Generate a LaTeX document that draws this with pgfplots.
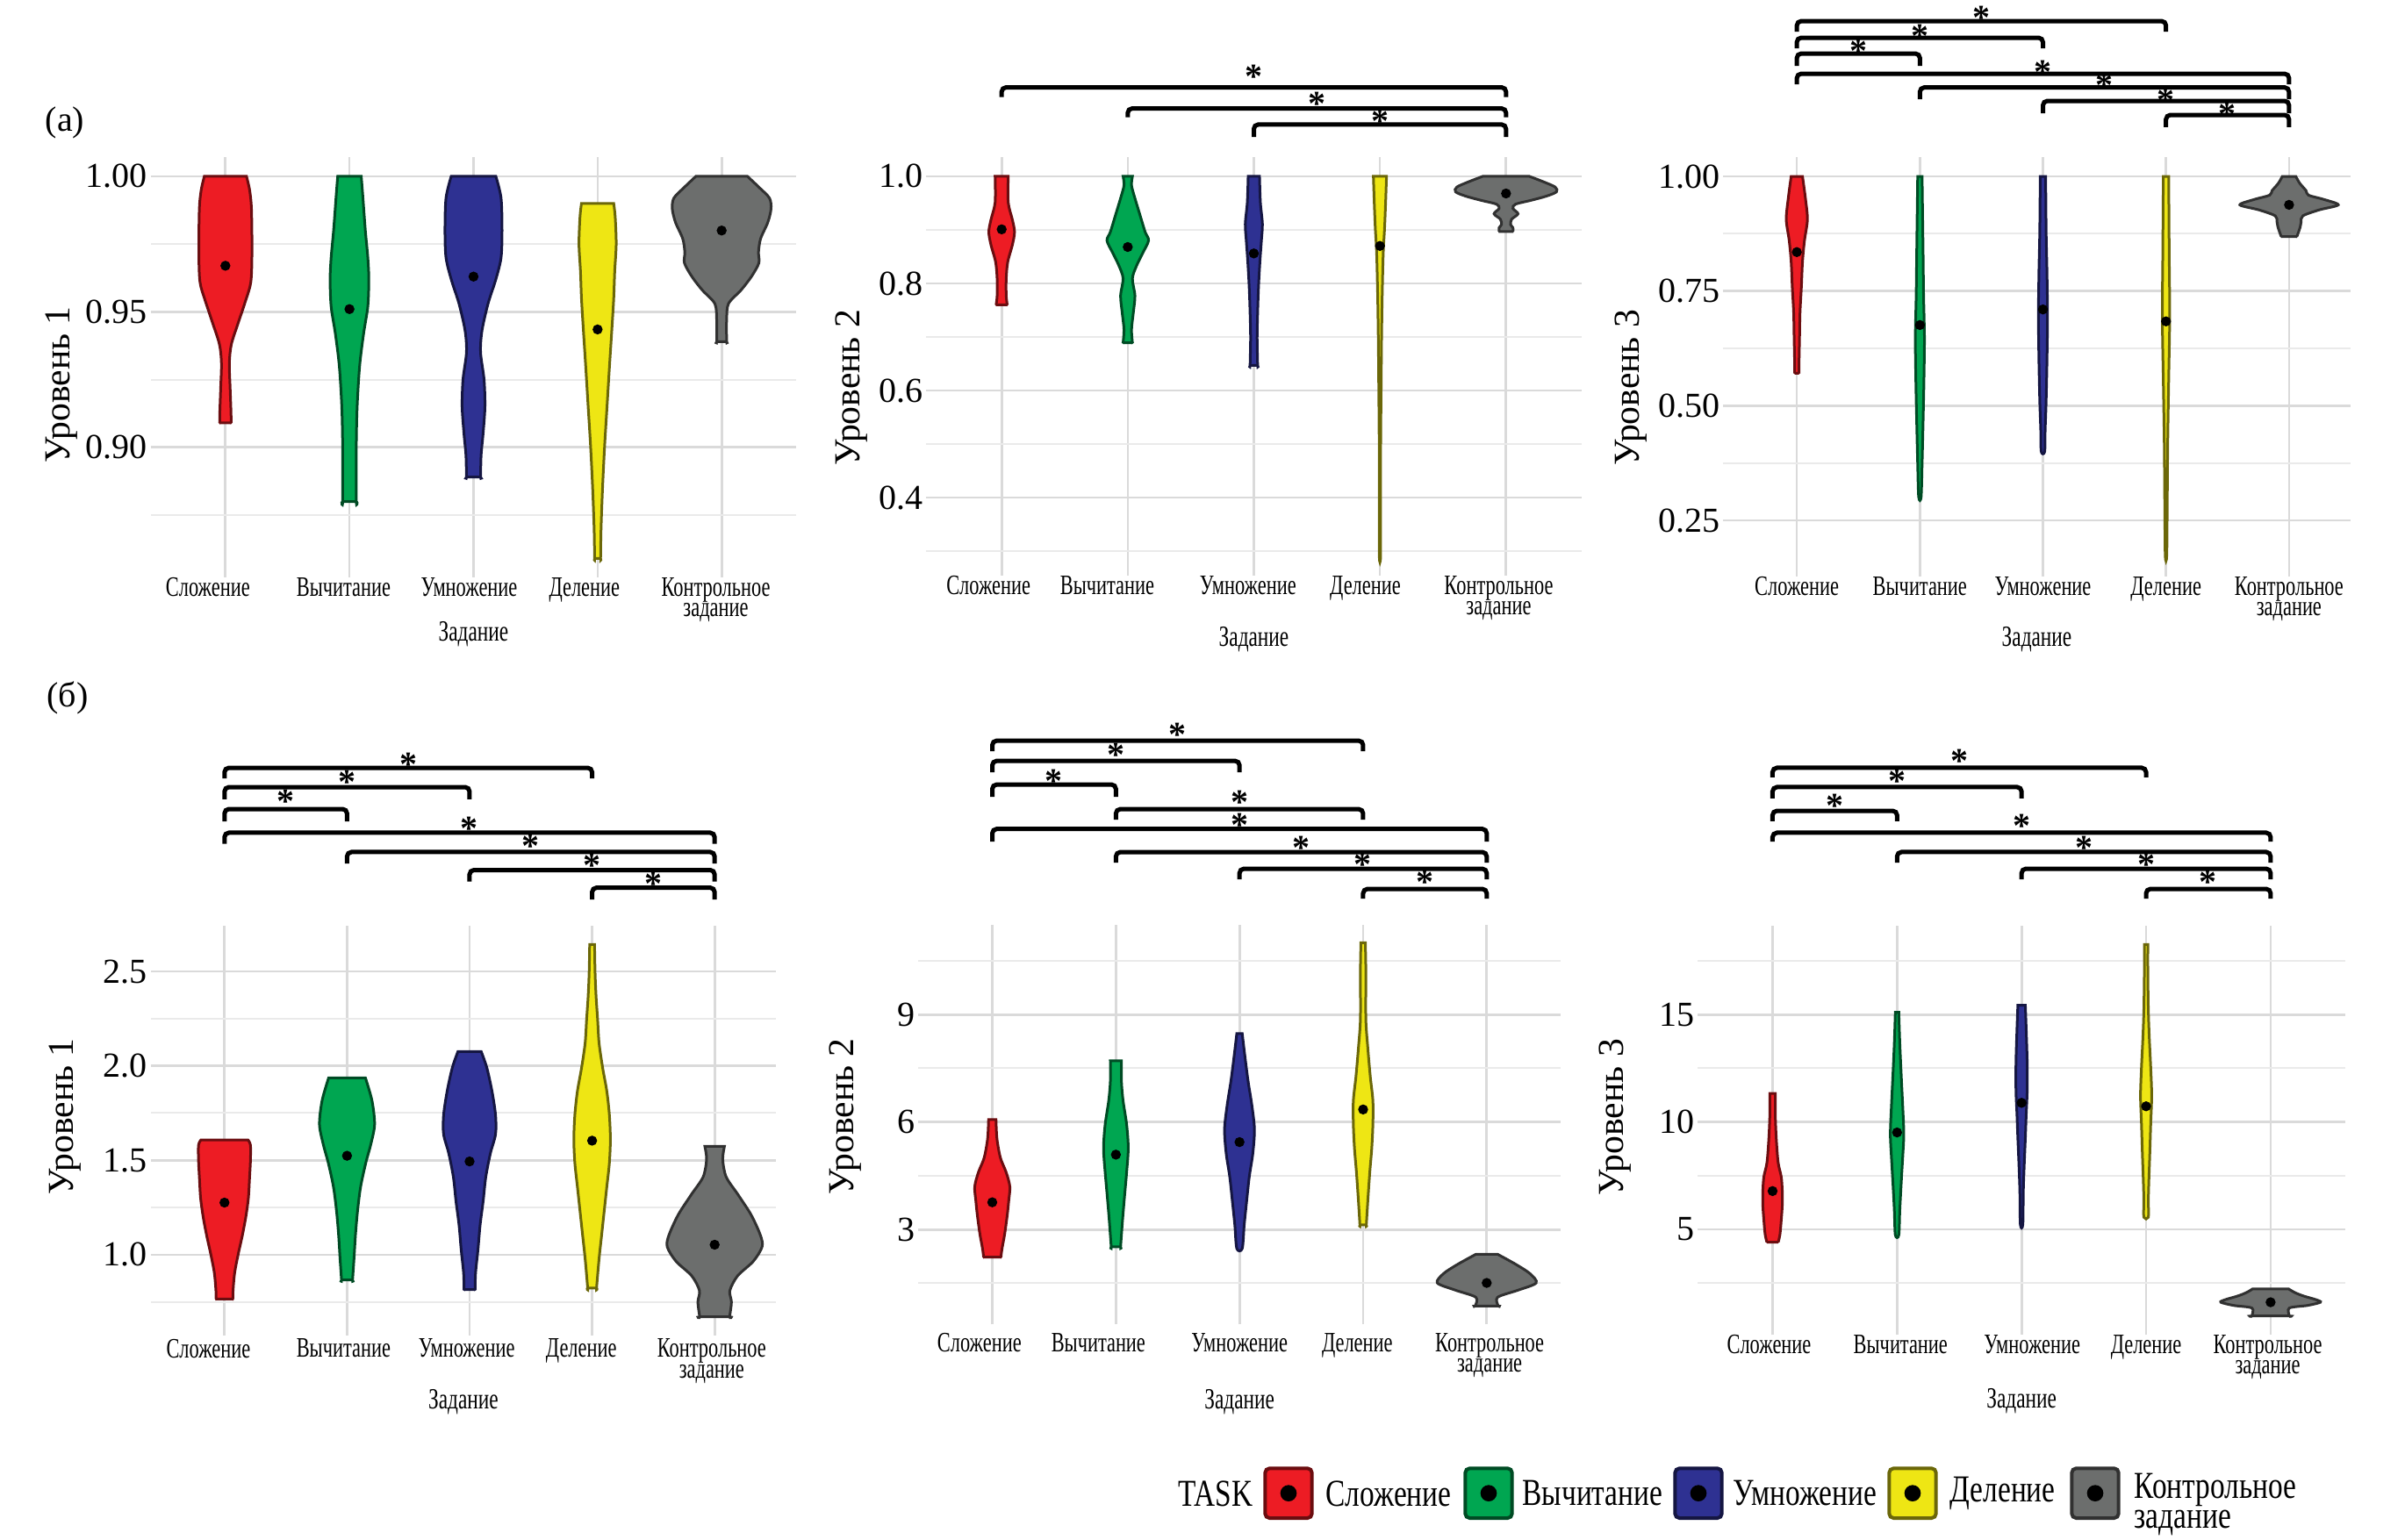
\documentclass[border=0pt]{standalone}
\usepackage{fontspec}
\setmainfont{Liberation Serif}
\newfontfamily\condfont{Liberation Serif}[FakeStretch=0.70]
\newfontfamily\legfont{Liberation Serif}[FakeStretch=0.77]
\usepackage{pgfplots}
\pgfplotsset{compat=1.18}
\usepackage{pgfplotstable}

\definecolor{cred}{HTML}{ED1C24}
\definecolor{cgreen}{HTML}{00A651}
\definecolor{cblue}{HTML}{2E3192}
\definecolor{cyellow}{HTML}{EEE614}
\definecolor{cgrey}{HTML}{6C6E6D}
\definecolor{gmaj}{HTML}{DADADA}
\definecolor{gmin}{HTML}{EAEAEA}

% violin outlines: y, signed half width (category units); right side down, left side up
\pgfplotstableread{
y s
1.000 0.170
0.995 0.195
0.988 0.210
0.972 0.214
0.961 0.205
0.954 0.162
0.946 0.104
0.938 0.048
0.931 0.032
0.922 0.038
0.913 0.045
0.909 0.046
0.909 0.046
0.909 -0.046
0.909 -0.046
0.913 -0.045
0.922 -0.038
0.931 -0.032
0.938 -0.048
0.946 -0.104
0.954 -0.162
0.961 -0.205
0.972 -0.214
0.988 -0.210
0.995 -0.195
1.000 -0.170
}\tAr
\pgfplotstableread{
y s
1.000 0.095
0.993 0.107
0.980 0.128
0.970 0.148
0.962 0.156
0.952 0.148
0.942 0.114
0.930 0.082
0.915 0.062
0.900 0.055
0.880 0.055
0.880 0.055
0.880 -0.055
0.880 -0.055
0.900 -0.055
0.915 -0.062
0.930 -0.082
0.942 -0.114
0.952 -0.148
0.962 -0.156
0.970 -0.148
0.980 -0.128
0.993 -0.107
1.000 -0.095
}\tAg
\pgfplotstableread{
y s
1.000 0.180
0.992 0.222
0.980 0.230
0.970 0.222
0.962 0.180
0.953 0.117
0.943 0.068
0.935 0.057
0.925 0.085
0.915 0.092
0.905 0.077
0.897 0.061
0.889 0.057
0.889 0.057
0.889 -0.057
0.889 -0.057
0.897 -0.061
0.905 -0.077
0.915 -0.092
0.925 -0.085
0.935 -0.057
0.943 -0.068
0.953 -0.117
0.962 -0.180
0.970 -0.222
0.980 -0.230
0.992 -0.222
1.000 -0.180
}\tAb
\pgfplotstableread{
y s
0.990 0.130
0.985 0.142
0.975 0.150
0.965 0.138
0.955 0.130
0.945 0.117
0.930 0.096
0.915 0.076
0.900 0.056
0.885 0.040
0.870 0.028
0.859 0.024
0.859 0.024
0.859 -0.024
0.859 -0.024
0.870 -0.028
0.885 -0.040
0.900 -0.056
0.915 -0.076
0.930 -0.096
0.945 -0.117
0.955 -0.130
0.965 -0.138
0.975 -0.150
0.985 -0.142
0.990 -0.130
}\tAy
\pgfplotstableread{
y s
1.000 0.208
0.996 0.300
0.992 0.385
0.988 0.398
0.983 0.372
0.977 0.314
0.972 0.297
0.968 0.300
0.963 0.240
0.958 0.156
0.953 0.055
0.947 0.040
0.939 0.040
0.939 0.040
0.939 -0.040
0.939 -0.040
0.947 -0.040
0.953 -0.055
0.958 -0.156
0.963 -0.240
0.968 -0.300
0.972 -0.297
0.977 -0.314
0.983 -0.372
0.988 -0.398
0.992 -0.385
0.996 -0.300
1.000 -0.208
}\tAk

\pgfplotstableread{
y s
1.000 0.052
0.951 0.052
0.919 0.085
0.896 0.102
0.872 0.085
0.840 0.048
0.809 0.036
0.777 0.036
0.760 0.044
0.760 0.044
0.760 -0.044
0.760 -0.044
0.777 -0.036
0.809 -0.036
0.840 -0.048
0.872 -0.085
0.896 -0.102
0.919 -0.085
0.951 -0.052
1.000 -0.052
}\tBr
\pgfplotstableread{
y s
1.000 0.037
0.983 0.030
0.959 0.057
0.927 0.098
0.896 0.138
0.880 0.165
0.856 0.117
0.832 0.068
0.809 0.037
0.777 0.057
0.745 0.044
0.714 0.030
0.689 0.037
0.689 0.037
0.689 -0.037
0.689 -0.037
0.714 -0.030
0.745 -0.044
0.777 -0.057
0.809 -0.037
0.832 -0.068
0.856 -0.117
0.880 -0.165
0.896 -0.138
0.927 -0.098
0.959 -0.057
0.983 -0.030
1.000 -0.037
}\tBg
\pgfplotstableread{
y s
1.000 0.045
0.951 0.052
0.911 0.068
0.880 0.060
0.840 0.048
0.793 0.037
0.745 0.030
0.698 0.026
0.647 0.030
0.647 0.030
0.647 -0.030
0.647 -0.030
0.698 -0.026
0.745 -0.030
0.793 -0.037
0.840 -0.048
0.880 -0.060
0.911 -0.068
0.951 -0.052
1.000 -0.045
}\tBb
\pgfplotstableread{
y s
1.000 0.052
0.951 0.045
0.904 0.037
0.856 0.026
0.777 0.018
0.698 0.013
0.619 0.010
0.540 0.007
0.461 0.005
0.382 0.005
0.289 0.005
0.289 -0.005
0.382 -0.005
0.461 -0.005
0.540 -0.007
0.619 -0.010
0.698 -0.013
0.777 -0.018
0.856 -0.026
0.904 -0.037
0.951 -0.045
1.000 -0.052
}\tBy
\pgfplotstableread{
y s
1.000 0.185
0.990 0.295
0.980 0.390
0.971 0.400
0.963 0.320
0.955 0.195
0.948 0.075
0.940 0.055
0.930 0.095
0.920 0.045
0.910 0.036
0.904 0.055
0.897 0.055
0.897 0.055
0.897 -0.055
0.897 -0.055
0.904 -0.055
0.910 -0.036
0.920 -0.045
0.930 -0.095
0.940 -0.055
0.948 -0.075
0.955 -0.195
0.963 -0.320
0.971 -0.400
0.980 -0.390
0.990 -0.295
1.000 -0.185
}\tBk

\pgfplotstableread{
y s
1.000 0.046
0.952 0.070
0.906 0.086
0.860 0.062
0.814 0.046
0.759 0.037
0.704 0.026
0.649 0.022
0.594 0.018
0.571 0.018
0.571 0.018
0.571 -0.018
0.571 -0.018
0.594 -0.018
0.649 -0.022
0.704 -0.026
0.759 -0.037
0.814 -0.046
0.860 -0.062
0.906 -0.086
0.952 -0.070
1.000 -0.046
}\tCr
\pgfplotstableread{
y s
1.000 0.018
0.833 0.026
0.741 0.030
0.649 0.037
0.557 0.033
0.465 0.026
0.373 0.018
0.301 0.010
0.301 -0.010
0.373 -0.018
0.465 -0.026
0.557 -0.033
0.649 -0.037
0.741 -0.030
0.833 -0.026
1.000 -0.018
}\tCg
\pgfplotstableread{
y s
1.000 0.022
0.879 0.026
0.787 0.033
0.695 0.037
0.603 0.033
0.511 0.026
0.447 0.018
0.400 0.014
0.400 -0.014
0.447 -0.018
0.511 -0.026
0.603 -0.033
0.695 -0.037
0.787 -0.033
0.879 -0.026
1.000 -0.022
}\tCb
\pgfplotstableread{
y s
1.000 0.022
0.833 0.026
0.695 0.030
0.557 0.022
0.419 0.014
0.281 0.010
0.173 0.006
0.173 -0.006
0.281 -0.010
0.419 -0.014
0.557 -0.022
0.695 -0.030
0.833 -0.026
1.000 -0.022
}\tCy
\pgfplotstableread{
y s
1.000 0.055
0.985 0.087
0.969 0.138
0.959 0.158
0.950 0.280
0.938 0.400
0.927 0.245
0.914 0.112
0.901 0.098
0.889 0.090
0.869 0.064
0.869 0.064
0.869 -0.064
0.869 -0.064
0.889 -0.090
0.901 -0.098
0.914 -0.112
0.927 -0.245
0.938 -0.400
0.950 -0.280
0.959 -0.158
0.969 -0.138
0.985 -0.087
1.000 -0.055
}\tCk

\pgfplotstableread{
y s
1.608 0.192
1.580 0.212
1.500 0.212
1.400 0.204
1.300 0.195
1.200 0.174
1.100 0.145
1.000 0.111
0.900 0.082
0.800 0.069
0.765 0.069
0.765 0.069
0.765 -0.069
0.765 -0.069
0.800 -0.069
0.900 -0.082
1.000 -0.111
1.100 -0.145
1.200 -0.174
1.300 -0.195
1.400 -0.204
1.500 -0.212
1.580 -0.212
1.608 -0.192
}\tDr
\pgfplotstableread{
y s
1.937 0.150
1.815 0.204
1.690 0.225
1.587 0.195
1.486 0.153
1.360 0.111
1.233 0.086
1.106 0.069
0.980 0.057
0.866 0.045
0.866 0.045
0.866 -0.045
0.866 -0.045
0.980 -0.057
1.106 -0.069
1.233 -0.086
1.360 -0.111
1.486 -0.153
1.587 -0.195
1.690 -0.225
1.815 -0.204
1.937 -0.150
}\tDg
\pgfplotstableread{
y s
2.076 0.095
1.990 0.141
1.866 0.183
1.740 0.212
1.638 0.212
1.537 0.170
1.410 0.132
1.284 0.111
1.157 0.086
1.030 0.069
0.904 0.049
0.815 0.045
0.815 0.045
0.815 -0.045
0.815 -0.045
0.904 -0.049
1.030 -0.069
1.157 -0.086
1.284 -0.111
1.410 -0.132
1.537 -0.170
1.638 -0.212
1.740 -0.212
1.866 -0.183
1.990 -0.141
2.076 -0.095
}\tDb
\pgfplotstableread{
y s
2.643 0.020
2.499 0.024
2.372 0.032
2.245 0.045
2.120 0.057
1.990 0.086
1.866 0.120
1.740 0.141
1.610 0.149
1.486 0.141
1.360 0.120
1.233 0.099
1.106 0.078
0.980 0.057
0.823 0.036
0.823 0.036
0.823 -0.036
0.823 -0.036
0.980 -0.057
1.106 -0.078
1.233 -0.099
1.360 -0.120
1.486 -0.141
1.610 -0.149
1.740 -0.141
1.866 -0.120
1.990 -0.086
2.120 -0.057
2.245 -0.045
2.372 -0.032
2.499 -0.024
2.643 -0.020
}\tDy
\pgfplotstableread{
y s
1.574 0.080
1.505 0.066
1.412 0.094
1.319 0.190
1.212 0.297
1.104 0.373
1.042 0.387
0.965 0.315
0.888 0.187
0.810 0.124
0.749 0.137
0.671 0.122
0.671 0.122
0.671 -0.122
0.671 -0.122
0.749 -0.137
0.810 -0.124
0.888 -0.187
0.965 -0.315
1.042 -0.387
1.104 -0.373
1.212 -0.297
1.319 -0.190
1.412 -0.094
1.505 -0.066
1.574 -0.080
}\tDk

\pgfplotstableread{
y s
6.07 0.030
5.53 0.038
5.00 0.066
4.60 0.112
4.20 0.142
3.80 0.133
3.40 0.121
2.87 0.100
2.47 0.079
2.23 0.070
2.23 0.070
2.23 -0.070
2.23 -0.070
2.47 -0.079
2.87 -0.100
3.40 -0.121
3.80 -0.133
4.20 -0.142
4.60 -0.112
5.00 -0.066
5.53 -0.038
6.07 -0.030
}\tEr
\pgfplotstableread{
y s
7.71 0.045
7.13 0.045
6.60 0.058
5.93 0.087
5.27 0.100
4.60 0.087
3.93 0.070
3.27 0.054
2.52 0.038
2.52 0.038
2.52 -0.038
2.52 -0.038
3.27 -0.054
3.93 -0.070
4.60 -0.087
5.27 -0.100
5.93 -0.087
6.60 -0.058
7.13 -0.045
7.71 -0.045
}\tEg
\pgfplotstableread{
y s
8.47 0.022
7.80 0.045
7.13 0.070
6.47 0.100
5.80 0.121
5.13 0.108
4.47 0.079
3.80 0.058
3.13 0.038
2.47 0.022
2.47 -0.022
3.13 -0.038
3.80 -0.058
4.47 -0.079
5.13 -0.108
5.80 -0.121
6.47 -0.100
7.13 -0.070
7.80 -0.045
8.47 -0.022
}\tEb
\pgfplotstableread{
y s
11.00 0.018
10.20 0.022
8.87 0.022
8.07 0.038
7.27 0.058
6.60 0.079
5.93 0.079
5.27 0.070
4.60 0.054
3.80 0.038
3.13 0.026
3.13 0.026
3.13 -0.026
3.13 -0.026
3.80 -0.038
4.60 -0.054
5.27 -0.070
5.93 -0.079
6.60 -0.079
7.27 -0.058
8.07 -0.038
8.87 -0.022
10.20 -0.022
11.00 -0.018
}\tEy
\pgfplotstableread{
y s
2.31 0.088
2.03 0.235
1.77 0.350
1.51 0.400
1.31 0.255
1.11 0.088
0.867 0.092
0.867 0.092
0.867 -0.092
0.867 -0.092
1.11 -0.088
1.31 -0.255
1.51 -0.400
1.77 -0.350
2.03 -0.235
2.31 -0.088
}\tEk

\pgfplotstableread{
y s
11.33 0.022
10.33 0.022
9.22 0.030
8.11 0.045
7.44 0.070
6.78 0.078
6.11 0.078
5.44 0.070
4.78 0.060
4.40 0.046
4.40 0.046
4.40 -0.046
4.40 -0.046
4.78 -0.060
5.44 -0.070
6.11 -0.078
6.78 -0.078
7.44 -0.070
8.11 -0.045
9.22 -0.030
10.33 -0.022
11.33 -0.022
}\tFr
\pgfplotstableread{
y s
15.11 0.014
13.67 0.022
12.11 0.034
10.78 0.045
9.44 0.054
8.33 0.045
7.22 0.034
5.89 0.022
4.73 0.014
4.73 -0.014
5.89 -0.022
7.22 -0.034
8.33 -0.045
9.44 -0.054
10.78 -0.045
12.11 -0.034
13.67 -0.022
15.11 -0.014
}\tFg
\pgfplotstableread{
y s
15.44 0.030
14.33 0.037
12.78 0.045
11.44 0.045
10.33 0.037
9.22 0.030
8.11 0.022
6.78 0.014
5.22 0.010
5.22 -0.010
6.78 -0.014
8.11 -0.022
9.22 -0.030
10.33 -0.037
11.44 -0.045
12.78 -0.045
14.33 -0.037
15.44 -0.030
}\tFb
\pgfplotstableread{
y s
18.27 0.014
17.00 0.014
15.22 0.018
13.89 0.026
12.56 0.037
11.22 0.045
9.89 0.037
8.56 0.030
7.22 0.022
6.33 0.018
5.56 0.018
5.56 -0.018
6.33 -0.018
7.22 -0.022
8.56 -0.030
9.89 -0.037
11.22 -0.045
12.56 -0.037
13.89 -0.026
15.22 -0.018
17.00 -0.014
18.27 -0.014
}\tFy
\pgfplotstableread{
y s
2.22 0.145
2.05 0.195
1.89 0.265
1.72 0.365
1.60 0.400
1.45 0.295
1.33 0.150
0.96 0.150
0.96 0.150
0.96 -0.150
0.96 -0.150
1.33 -0.150
1.45 -0.295
1.60 -0.400
1.72 -0.365
1.89 -0.265
2.05 -0.195
2.22 -0.145
}\tFk

% one violin: category, colour, table
\newcommand\violin[3]{%
  \addplot[fill=#2, draw=#2!45!black, line width=0.9pt, smooth, tension=0.5, forget plot]
    table[x expr=#1+\thisrow{s}, y=y] {#3} -- cycle;
}
% significance bracket: x1, x2, line y, tip y, star y, star x (data units)
\newcommand\brk[6]{%
  \draw[brk] (axis cs:#1,#4) -- (axis cs:#1,#3) -- (axis cs:#2,#3) -- (axis cs:#2,#4);
  \node[sig] at (axis cs:#6,#5) {*};
}
% legend key: centre x, colour
\newcommand\lkey[2]{%
  \draw[fill=#2, draw=#2!45!black, line width=1.2pt, rounded corners=1.5pt] (#1-8pt,-519pt) rectangle (#1+8pt,-502pt);
  \fill[black] (#1,-510.5pt) circle (2.8pt);
}
% shifted tick label (shift = half the given space)
\newcommand\sh[2]{\hspace*{#1}#2}

\tikzset{
  brk/.style={black, line width=1.5pt, rounded corners=1.5pt},
  sig/.style={font=\bfseries\fontsize{12}{12}\selectfont, inner sep=0pt, yshift=-2pt},
}
\pgfplotsset{
  vio/.style={
    scale only axis, clip=false,
    xmin=0.4, xmax=5.6,
    xtick={1,2,3,4,5},
    xticklabels={Сложение,Вычитание,Умножение,Деление,{Контрольное\\задание}},
    xticklabel style={font=\condfont\fontsize{9.6}{7}\selectfont, align=center, anchor=north, inner sep=0pt, yshift=0pt},
    yticklabel style={font=\fontsize{12}{12}\selectfont, anchor=east, inner sep=0pt, xshift=-1pt},
    /pgf/number format/assume math mode=true,
    axis line style={draw=none},
    major tick length=0pt, minor tick length=0pt,
    xmajorgrids, ymajorgrids, yminorgrids,
    major grid style={draw=gmaj, line width=0.8pt},
    minor grid style={draw=gmin, line width=0.6pt},
    xlabel={Задание},
    xlabel style={font=\condfont\fontsize{10}{10}\selectfont, anchor=center},
    ylabel style={font=\fontsize{12.5}{12.5}\selectfont, anchor=center},
  },
  means/.style={only marks, mark=*, mark size=1.5pt, black, forget plot},
}

\begin{document}
\begin{tikzpicture}
\useasboundingbox (0,0) rectangle (822pt,-526.5pt);

\node[font=\fontsize{12}{12}\selectfont] at (22.2pt,-42pt) {(а)};
\node[font=\fontsize{12}{12}\selectfont] at (23.1pt,-238.5pt) {(б)};

% (a) level 1
\begin{axis}[vio, at={(51.6pt,-197.4pt)}, anchor=south west, width=220.5pt, height=143.6pt,
  ymin=0.852, ymax=1.007, ytick={0.90,0.95,1.00}, minor ytick={0.875,0.925,0.975},
  yticklabel style={/pgf/number format/.cd, fixed, fixed zerofill, precision=2},
  xticklabels={\sh{-12pt}{Сложение},\sh{-4pt}{Вычитание},\sh{-3pt}{Умножение},\sh{-9pt}{Деление},{\sh{-4pt}{Контрольное}\\\sh{-4pt}{задание}}},
  ylabel={Уровень 1},
  ylabel style={at={(axis description cs:-0.139,0.459)}},
  xlabel style={at={(axis description cs:0.5,-0.136)}}]
\violin{1}{cred}{\tAr}
\violin{2}{cgreen}{\tAg}
\violin{3}{cblue}{\tAb}
\violin{4}{cyellow}{\tAy}
\violin{5}{cgrey}{\tAk}
\addplot[means] coordinates {(1,0.967) (2,0.951) (3,0.963) (4,0.9435) (5,0.980)};
\end{axis}

% (a) level 2
\begin{axis}[vio, at={(316.5pt,-196.74pt)}, anchor=south west, width=224.1pt, height=142.95pt,
  ymin=0.2545, ymax=1.0355, ytick={0.4,0.6,0.8,1.0}, minor ytick={0.3,0.5,0.7,0.9},
  yticklabel style={/pgf/number format/.cd, fixed, fixed zerofill, precision=1},
  xticklabels={\sh{-9pt}{Сложение},\sh{-14pt}{Вычитание},\sh{-4pt}{Умножение},\sh{-10pt}{Деление},{\sh{-5pt}{Контрольное}\\\sh{-5pt}{задание}}},
  ylabel={Уровень 2},
  ylabel style={at={(axis description cs:-0.114,0.449)}},
  xlabel style={at={(axis description cs:0.5,-0.153)}}]
\violin{1}{cred}{\tBr}
\violin{2}{cgreen}{\tBg}
\violin{3}{cblue}{\tBb}
\violin{4}{cyellow}{\tBy}
\violin{5}{cgrey}{\tBk}
\addplot[means] coordinates {(1,0.901) (2,0.868) (3,0.856) (4,0.870) (5,0.968)};
\brk{1}{5}{1.1662}{1.1481}{1.1966}{3}
\brk{2}{5}{1.1268}{1.1102}{1.1465}{3.5}
\brk{3}{5}{1.0968}{1.0737}{1.1131}{4}
\end{axis}

% (a) level 3
\begin{axis}[vio, at={(588.9pt,-197.0pt)}, anchor=south west, width=214.5pt, height=143.2pt,
  xmax=5.5,
  ymin=0.1285, ymax=1.0415, ytick={0.25,0.50,0.75,1.00}, minor ytick={0.375,0.625,0.875},
  yticklabel style={/pgf/number format/.cd, fixed, fixed zerofill, precision=2},
  ylabel={Уровень 3},
  ylabel style={at={(axis description cs:-0.147,0.450)}},
  xlabel style={at={(axis description cs:0.5,-0.151)}}]
\violin{1}{cred}{\tCr}
\violin{2}{cgreen}{\tCg}
\violin{3}{cblue}{\tCb}
\violin{4}{cyellow}{\tCy}
\violin{5}{cgrey}{\tCk}
\addplot[means] coordinates {(1,0.835) (2,0.676) (3,0.710) (4,0.684) (5,0.938)};
\brk{1}{4}{1.3385}{1.3156}{1.3577}{2.5}
\brk{1}{3}{1.3022}{1.2792}{1.3174}{2}
\brk{1}{2}{1.2677}{1.2410}{1.2849}{1.5}
\brk{1}{5}{1.2237}{1.2008}{1.2400}{3}
\brk{2}{5}{1.1939}{1.1683}{1.2104}{3.5}
\brk{3}{5}{1.1645}{1.1377}{1.1779}{4}
\brk{4}{5}{1.1339}{1.1072}{1.1473}{4.5}
\end{axis}

% (b) level 1
\begin{axis}[vio, at={(51.6pt,-456.6pt)}, anchor=south west, width=213.6pt, height=140.1pt,
  xmax=5.5,
  ymin=0.572, ymax=2.742, ytick={1.0,1.5,2.0,2.5}, minor ytick={0.75,1.25,1.75,2.25},
  yticklabel style={/pgf/number format/.cd, fixed, fixed zerofill, precision=1},
  xticklabels={\sh{-11pt}{Сложение},\sh{-2.4pt}{Вычитание},\sh{-2pt}{Умножение},\sh{-7.4pt}{Деление},{\sh{-2pt}{Контрольное}\\\sh{-2pt}{задание}}},
  ylabel={Уровень 1},
  ylabel style={at={(axis description cs:-0.138,0.535)}},
  xlabel style={at={(axis description cs:0.5,-0.161)}},
  xticklabel style={yshift=-1pt}]
\violin{1}{cred}{\tDr}
\violin{2}{cgreen}{\tDg}
\violin{3}{cblue}{\tDb}
\violin{4}{cyellow}{\tDy}
\violin{5}{cgrey}{\tDk}
\addplot[means] coordinates {(1,1.276) (2,1.524) (3,1.494) (4,1.604) (5,1.053)};
\brk{1}{4}{3.5783}{3.5226}{3.6271}{2.5}
\brk{1}{3}{3.4761}{3.4112}{3.5319}{2}
\brk{1}{2}{3.3600}{3.2949}{3.4297}{1.5}
\brk{1}{5}{3.2346}{3.1764}{3.2856}{3}
\brk{2}{5}{3.1324}{3.0718}{3.1927}{3.5}
\brk{3}{5}{3.0371}{2.9766}{3.0905}{4}
\brk{4}{5}{2.9436}{2.8813}{2.9929}{4.5}
\end{axis}

% (b) level 2
\begin{axis}[vio, at={(313.8pt,-452.7pt)}, anchor=south west, width=219.7pt, height=136.6pt,
  ymin=0.36, ymax=11.51, ytick={3,6,9}, minor ytick={1.5,4.5,7.5,10.5},
  xticklabels={\sh{-8.8pt}{Сложение},\sh{-12pt}{Вычитание},Умножение,\sh{-4pt}{Деление},{\sh{2pt}{Контрольное}\\\sh{2pt}{задание}}},
  ylabel={Уровень 2},
  ylabel style={at={(axis description cs:-0.113,0.52)}},
  xlabel style={at={(axis description cs:0.5,-0.194)}},
  xticklabel style={yshift=-3pt}]
\violin{1}{cred}{\tEr}
\violin{2}{cgreen}{\tEg}
\violin{3}{cblue}{\tEb}
\violin{4}{cyellow}{\tEy}
\violin{5}{cgrey}{\tEk}
\addplot[means] coordinates {(1,3.76) (2,5.09) (3,5.44) (4,6.35) (5,1.51)};
\brk{1}{4}{16.642}{16.348}{16.960}{2.5}
\brk{1}{3}{16.078}{15.760}{16.407}{2}
\brk{1}{2}{15.418}{15.075}{15.672}{1.5}
\brk{2}{4}{14.732}{14.438}{15.075}{3}
\brk{1}{5}{14.179}{13.826}{14.438}{3}
\brk{2}{5}{13.533}{13.238}{13.801}{3.5}
\brk{3}{5}{13.068}{12.773}{13.336}{4}
\brk{4}{5}{12.505}{12.235}{12.847}{4.5}
\end{axis}

% (b) level 3
\begin{axis}[vio, at={(580.3pt,-456.3pt)}, anchor=south west, width=221.3pt, height=139.8pt,
  ymin=0.09, ymax=19.14, ytick={5,10,15}, minor ytick={2.5,7.5,12.5,17.5},
  xticklabels={\sh{-2.4pt}{Сложение},\sh{2.4pt}{Вычитание},\sh{7.2pt}{Умножение},Деление,{\sh{-2pt}{Контрольное}\\\sh{-2pt}{задание}}},
  ylabel={Уровень 3},
  ylabel style={at={(axis description cs:-0.128,0.532)}},
  xlabel style={at={(axis description cs:0.5,-0.163)}},
  xticklabel style={yshift=0pt}]
\violin{1}{cred}{\tFr}
\violin{2}{cgreen}{\tFg}
\violin{3}{cblue}{\tFb}
\violin{4}{cyellow}{\tFy}
\violin{5}{cgrey}{\tFk}
\addplot[means] coordinates {(1,6.78) (2,9.51) (3,10.89) (4,10.73) (5,1.60)};
\brk{1}{4}{26.499}{26.049}{27.084}{2.5}
\brk{1}{3}{25.600}{25.068}{26.147}{2}
\brk{1}{2}{24.495}{24.005}{24.986}{1.5}
\brk{1}{5}{23.474}{23.064}{24.045}{3}
\brk{2}{5}{22.575}{22.083}{23.024}{3.5}
\brk{3}{5}{21.797}{21.306}{22.247}{4}
\brk{4}{5}{20.856}{20.407}{21.430}{4.5}
\end{axis}

% legend
\begin{scope}[every node/.style={font=\legfont\fontsize{13}{13}\selectfont, inner sep=0pt}]
\node at (415.5pt,-510.6pt) {TASK};
\lkey{440.4pt}{cred}
\node[anchor=west] at (453pt,-510.6pt) {Сложение};
\lkey{508.8pt}{cgreen}
\node[anchor=west] at (520.2pt,-510.6pt) {Вычитание};
\lkey{580.5pt}{cblue}
\node[anchor=west] at (592.2pt,-510.6pt) {Умножение};
\lkey{653.7pt}{cyellow}
\node[anchor=west] at (666.3pt,-510.6pt) {Деление};
\lkey{716.1pt}{cgrey}
\node[anchor=west] at (729.3pt,-509.4pt) {Контрольное};
\node[anchor=west] at (729.3pt,-520.5pt) {задание};
\end{scope}
\end{tikzpicture}
\end{document}
